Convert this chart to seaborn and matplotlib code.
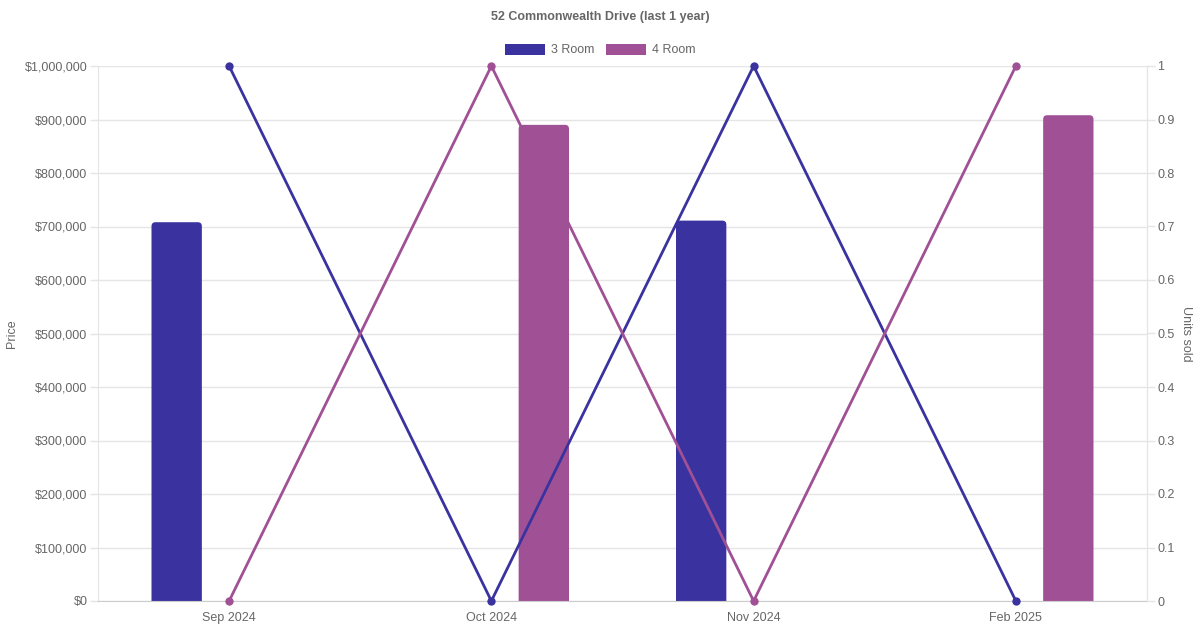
"""
Price and units sold per month at 52 Commonwealth Drive (last 1 year).
"""

import pandas as pd
import matplotlib
matplotlib.use("Agg")
import matplotlib.pyplot as plt
from matplotlib.patches import FancyBboxPatch, Patch
from matplotlib.ticker import FuncFormatter, MultipleLocator
import seaborn as sns

# ---------------------------------------------------------------------------
# Data
# ---------------------------------------------------------------------------

months = ["Sep 2024", "Oct 2024", "Nov 2024", "Feb 2025"]
flat_types = ["3 Room", "4 Room"]

# 0 = no sale of that type in the month (bar not drawn)
price_3room = [708000, 0, 711000, 0]
price_4room = [0, 890000, 0, 908000]

units_3room = [1, 0, 1, 0]
units_4room = [0, 1, 0, 1]

colors = {"3 Room": "#3A339F", "4 Room": "#A05195"}
text_color = "#666666"
grid_color = "#E5E5E5"

# long tables for seaborn
price_df = pd.DataFrame({
    "month": months * 2,
    "type": ["3 Room"] * len(months) + ["4 Room"] * len(months),
    "price": price_3room + price_4room,
})

units_df = pd.DataFrame({
    "pos": list(range(len(months))) * 2,
    "type": ["3 Room"] * len(months) + ["4 Room"] * len(months),
    "units": units_3room + units_4room,
})

# ---------------------------------------------------------------------------
# Plot
# ---------------------------------------------------------------------------

sns.set_style("white")
plt.rcParams["font.family"] = ["Liberation Sans", "DejaVu Sans"]

fig = plt.figure(figsize=(12, 6.3), dpi=100)
ax = fig.add_axes([98 / 1200, 29 / 630, 1049 / 1200, 535 / 630])

sns.barplot(data=price_df, x="month", y="price", hue="type", order=months,
            hue_order=flat_types, palette=colors, saturation=1, width=0.8,
            gap=0.52, legend=False, ax=ax, zorder=2)

ax.set_xlim(-0.5, 3.5)
ax.set_ylim(0, 1_000_000)

# rounded tops on the bars (Chart.js style), drop empty bars
rad_x = 4 / 262
rad_y = 4 / 535 * 1_000_000
for bar in list(ax.patches):
    x, w, h = bar.get_x(), bar.get_width(), bar.get_height()
    fc = bar.get_facecolor()
    bar.remove()
    if not h or h != h:
        continue
    fb = FancyBboxPatch((x, -rad_y * 2), w, h + rad_y * 2,
                        boxstyle=f"round,pad=0,rounding_size={rad_x}",
                        mutation_aspect=rad_y / rad_x,
                        facecolor=fc, edgecolor="none", zorder=2, clip_on=True)
    ax.add_patch(fb)

ax.yaxis.set_major_locator(MultipleLocator(100_000))
ax.yaxis.set_major_formatter(FuncFormatter(lambda v, _: f"${v:,.0f}"))
ax.grid(axis="y", color=grid_color, linewidth=1, zorder=0)
ax.set_axisbelow(True)
ax.tick_params(axis="y", length=6, width=1, color=grid_color, pad=1.5,
               labelsize=9, labelcolor=text_color)
ax.tick_params(axis="x", length=0, pad=8, labelsize=9, labelcolor=text_color)
ax.set_xlabel("")
ax.set_ylabel("Price", color=text_color, fontsize=9)
ax.yaxis.set_label_coords(-0.076, 0.5)

for side in ["left", "right"]:
    ax.spines[side].set_color(grid_color)
ax.spines["top"].set_visible(False)
ax.spines["bottom"].set_color("#CCCCCC")

# units sold on the right axis
ax2 = ax.twinx()
sns.lineplot(data=units_df, x="pos", y="units", hue="type",
             hue_order=flat_types, palette=colors, sort=False,
             linewidth=2.0, marker="o", markersize=6, markeredgewidth=0,
             legend=False, ax=ax2, zorder=3, clip_on=False)
ax2.set_xlim(-0.5, 3.5)
ax2.set_ylim(0, 1)
ax2.yaxis.set_major_locator(MultipleLocator(0.1))
ax2.yaxis.set_major_formatter(FuncFormatter(lambda v, _: f"{v:.1f}".rstrip("0").rstrip(".")))
ax2.tick_params(axis="y", length=6, width=1, color=grid_color, pad=1.5,
                labelsize=9, labelcolor=text_color)
ax2.set_ylabel("Units sold", color=text_color, fontsize=9, rotation=270,
               va="center")
ax2.yaxis.set_label_coords(1.037, 0.5)
ax2.set_xlabel("")
for side in ["top", "left", "bottom"]:
    ax2.spines[side].set_visible(False)
ax2.spines["right"].set_color(grid_color)

# title + legend
fig.text(0.5, 1 - 17 / 630, "52 Commonwealth Drive (last 1 year)",
         ha="center", va="center", fontsize=9, fontweight="bold",
         color=text_color)
handles = [Patch(facecolor=colors[t], edgecolor="none", label=t) for t in flat_types]
fig.legend(handles=handles, loc="center", bbox_to_anchor=(0.5, 1 - 50 / 630),
           ncol=2, frameon=False, fontsize=9, labelcolor=text_color,
           handlelength=3.2, handleheight=1.0, handletextpad=0.5,
           columnspacing=0.9)

fig.savefig("out.png", dpi=100)
